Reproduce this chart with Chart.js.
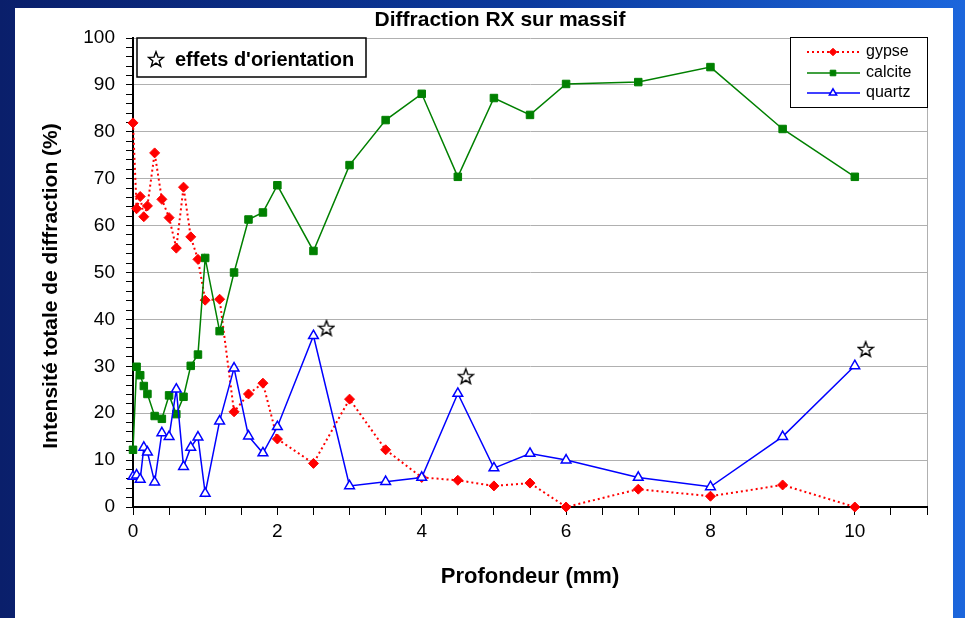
<!DOCTYPE html>
<html>
<head>
<meta charset="utf-8">
<script src="https://cdn.jsdelivr.net/npm/chart.js@4.4.0/dist/chart.umd.min.js"></script>
<style>
    html, body { margin: 0; padding: 0; }
    body {
        width: 965px; height: 618px; overflow: hidden; position: relative;
        background: linear-gradient(90deg, #0a1f6b 0%, #0b3a9e 55%, #1c66dc 100%);
    }
    #panel { position: absolute; left: 15px; top: 8px; width: 938px; height: 610px; background: #fff; }
    #chart { position: absolute; left: 0; top: 0; }
</style>
</head>
<body>
<div id="panel"></div>
<canvas id="chart" width="965" height="618"></canvas>
<script>
// Profondeur (mm) - same depths for the three phases
const depth = [0, 0.05, 0.1, 0.15, 0.2, 0.3, 0.4, 0.5, 0.6, 0.7, 0.8, 0.9, 1.0, 1.2, 1.4, 1.6, 1.8, 2, 2.5, 3, 3.5, 4, 4.5, 5, 5.5, 6, 7, 8, 9, 10];
const gypse = [81.9, 63.6, 66.2, 61.9, 64.2, 75.5, 65.6, 61.7, 55.2, 68.2, 57.6, 52.8, 44.1, 44.3, 20.3, 24.1, 26.4, 14.5, 9.3, 23.0, 12.2, 6.3, 5.7, 4.5, 5.1, 0, 3.8, 2.3, 4.7, 0];
const calcite = [12.2, 29.9, 28.1, 25.8, 24.1, 19.4, 18.8, 23.8, 19.8, 23.5, 30.1, 32.5, 53.1, 37.5, 50.0, 61.3, 62.8, 68.6, 54.6, 72.9, 82.5, 88.1, 70.4, 87.2, 83.6, 90.2, 90.6, 93.8, 80.6, 70.4];
const quartz = [6.5, 6.8, 5.9, 12.7, 11.7, 5.3, 15.8, 15.0, 25.1, 8.6, 12.7, 14.9, 2.9, 18.3, 29.6, 15.1, 11.5, 17.1, 36.5, 4.5, 5.4, 6.3, 24.2, 8.3, 11.4, 10.0, 6.3, 4.3, 15.0, 30.1];

// effets d'orientation (stars)
const starDepth = [2.68, 4.61, 10.15];
const starValue = [38.2, 27.9, 33.7];

const xLabels = [0, 2, 4, 6, 8, 10];
const yLabels = [0, 10, 20, 30, 40, 50, 60, 70, 80, 90, 100];

const FONT = '"Liberation Sans", Arial, sans-serif';

function toPoints(xs, ys) {
    return xs.map((x, i) => ({ x: x, y: ys[i] }));
}

function makeStar(size) {
    const c = document.createElement('canvas');
    c.width = size; c.height = size;
    const g = c.getContext('2d');
    const cx = size / 2, cy = size / 2 + 0.8, R = size / 2 - 1, r = R * 0.42;
    g.beginPath();
    for (let i = 0; i < 10; i++) {
        const a = -Math.PI / 2 + i * Math.PI / 5;
        const rr = i % 2 ? r : R;
        g.lineTo(cx + rr * Math.cos(a), cy + rr * Math.sin(a));
    }
    g.closePath();
    g.fillStyle = '#fff';
    g.fill();
    g.strokeStyle = '#000';
    g.lineWidth = 1.4;
    g.stroke();
    return c;
}
const starImg = makeStar(18);

// titles, legend box and the "effets d'orientation" box
const overlay = {
    id: 'overlay',
    afterDraw(chart) {
        const ctx = chart.ctx;
        ctx.save();
        ctx.fillStyle = '#000';
        ctx.textBaseline = 'middle';

        ctx.font = 'bold 21px ' + FONT;
        ctx.textAlign = 'center';
        ctx.fillText('Diffraction RX sur massif', 500, 20);

        // y axis title
        ctx.save();
        ctx.translate(51, 286);
        ctx.rotate(-Math.PI / 2);
        ctx.font = 'bold 21px ' + FONT;
        ctx.fillText('Intensité totale de diffraction (%)', 0, 0);
        ctx.restore();

        // orientation box
        ctx.fillStyle = '#fff';
        ctx.fillRect(137, 38, 229, 39);
        ctx.strokeStyle = '#000';
        ctx.lineWidth = 1.5;
        ctx.strokeRect(137, 38, 229, 39);
        ctx.drawImage(starImg, 147, 50);
        ctx.fillStyle = '#000';
        ctx.textAlign = 'left';
        ctx.font = 'bold 20px ' + FONT;
        ctx.fillText("effets d'orientation", 175, 60);

        // legend
        ctx.fillStyle = '#fff';
        ctx.fillRect(790.5, 37.5, 137, 70);
        ctx.lineWidth = 1;
        ctx.strokeStyle = '#000';
        ctx.strokeRect(790.5, 37.5, 137, 70);
        const rows = [52, 73, 93];
        chart.data.datasets.slice(0, 3).forEach((ds, i) => {
            const y = rows[i];
            ctx.save();
            ctx.strokeStyle = ds.borderColor;
            ctx.lineWidth = ds.borderWidth;
            ctx.setLineDash(ds.borderDash || []);
            ctx.beginPath();
            ctx.moveTo(807, y);
            ctx.lineTo(860, y);
            ctx.stroke();
            ctx.setLineDash([]);
            ctx.fillStyle = ds.pointBackgroundColor;
            ctx.strokeStyle = ds.pointBorderColor;
            ctx.lineWidth = ds.pointBorderWidth;
            if (Chart.helpers && Chart.helpers.drawPoint) {
                Chart.helpers.drawPoint(ctx, {
                    pointStyle: ds.pointStyle,
                    radius: ds.pointRadius * 0.75,
                    borderWidth: ds.pointBorderWidth,
                    rotation: 0
                }, 833, y);
            }
            ctx.restore();
            ctx.fillStyle = '#000';
            ctx.font = '16px ' + FONT;
            ctx.textAlign = 'left';
            ctx.fillText(ds.label, 866, y);
        });
        ctx.restore();
    }
};

new Chart(document.getElementById('chart').getContext('2d'), {
    type: 'line',
    data: {
        datasets: [
            {
                label: 'gypse',
                data: toPoints(depth, gypse),
                borderColor: '#ff0000',
                borderWidth: 2,
                borderDash: [2, 3],
                pointStyle: 'rectRot',
                pointRadius: 5,
                pointBackgroundColor: '#ff0000',
                pointBorderColor: '#ff0000',
                pointBorderWidth: 1,
                clip: false,
                order: 3
            },
            {
                label: 'calcite',
                data: toPoints(depth, calcite),
                borderColor: '#008000',
                borderWidth: 1.5,
                pointStyle: 'rect',
                pointRadius: 5.3,
                pointBackgroundColor: '#008000',
                pointBorderColor: '#008000',
                pointBorderWidth: 1,
                clip: false,
                order: 2
            },
            {
                label: 'quartz',
                data: toPoints(depth, quartz),
                borderColor: '#0000ff',
                borderWidth: 1.5,
                pointStyle: 'triangle',
                pointRadius: 5.6,
                pointBackgroundColor: '#ffffff',
                pointBorderColor: '#0000ff',
                pointBorderWidth: 1.5,
                clip: false,
                order: 1
            },
            {
                label: "effets d'orientation",
                data: toPoints(starDepth, starValue),
                showLine: false,
                pointStyle: starImg,
                pointRadius: 9,
                clip: false,
                order: 0
            }
        ]
    },
    options: {
        responsive: false,
        animation: false,
        devicePixelRatio: 1,
        layout: { padding: { left: 0, top: 38, right: 38, bottom: 0 } },
        elements: { line: { tension: 0, fill: false } },
        plugins: {
            legend: { display: false },
            tooltip: { enabled: false },
            title: { display: false }
        },
        scales: {
            x: {
                type: 'linear',
                min: 0,
                max: 11,
                ticks: {
                    stepSize: 0.5,
                    autoSkip: false,
                    maxRotation: 0,
                    padding: 5,
                    color: '#000',
                    font: { family: FONT, size: 19 },
                    callback: v => xLabels.includes(v) ? v : ''
                },
                grid: {
                    color: c => (c.tick && c.tick.value === 11) ? '#b0b0b0' : 'rgba(0,0,0,0)',
                    tickColor: '#000',
                    tickLength: 8
                },
                border: { color: '#000', width: 2 },
                title: {
                    display: true,
                    text: 'Profondeur (mm)',
                    color: '#000',
                    font: { family: FONT, size: 22, weight: 'bold' },
                    padding: { top: 0, bottom: 28 }
                },
                afterFit: s => { s.height = 111; }
            },
            y: {
                min: 0,
                max: 100,
                ticks: {
                    stepSize: 2,
                    autoSkip: false,
                    padding: 11,
                    color: '#000',
                    font: { family: FONT, size: 19 },
                    callback: v => yLabels.includes(v) ? v : ''
                },
                grid: {
                    color: c => (c.tick && yLabels.includes(c.tick.value)) ? '#b0b0b0' : 'rgba(0,0,0,0)',
                    tickColor: '#000',
                    tickLength: 7
                },
                border: { color: '#000', width: 2 },
                title: { display: false },
                afterFit: s => { s.width = 133; }
            }
        }
    },
    plugins: [overlay]
});
</script>
</body>
</html>
